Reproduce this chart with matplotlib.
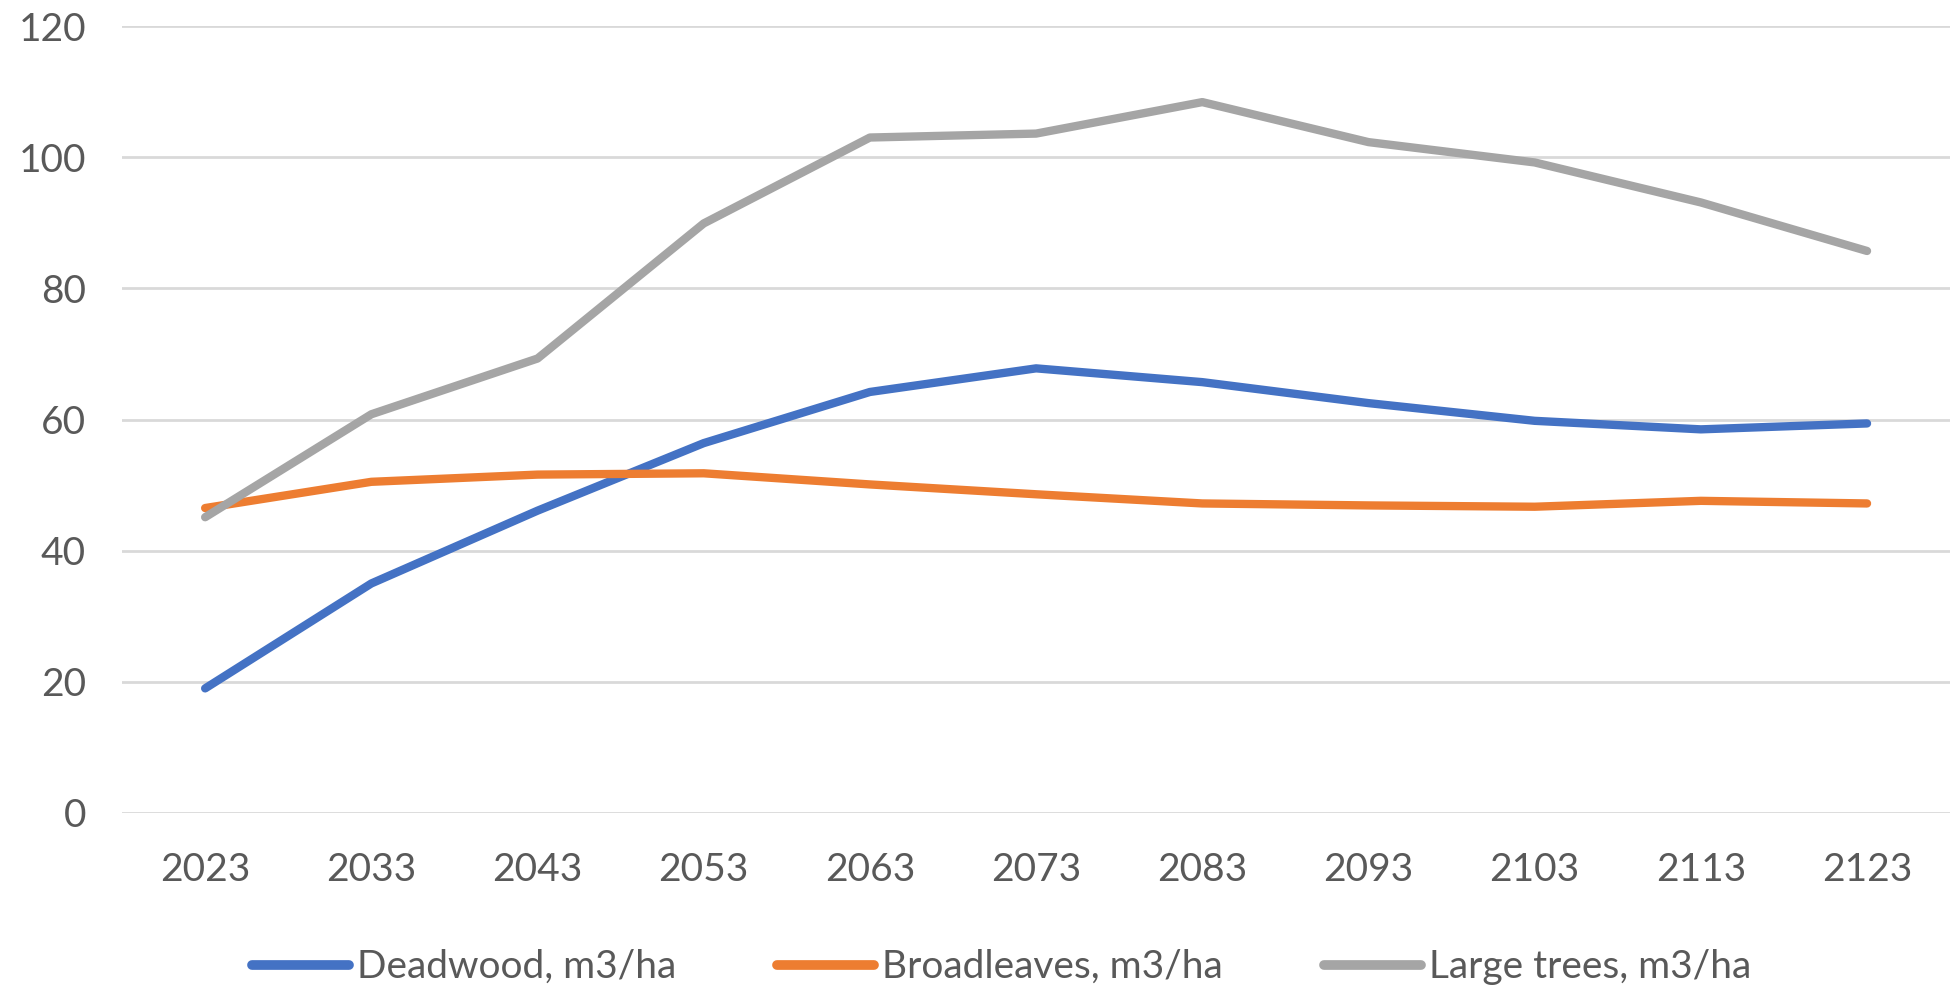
import numpy as np
import matplotlib.pyplot as plt

# Data
years = ["2023", "2033", "2043", "2053", "2063", "2073", "2083", "2093", "2103", "2113", "2123"]
deadwood = [19.0, 35.0, 46.1, 56.4, 64.2, 67.8, 65.7, 62.5, 59.8, 58.5, 59.4]
broadleaves = [46.5, 50.5, 51.6, 51.8, 50.1, 48.6, 47.2, 46.9, 46.7, 47.6, 47.2]
large_trees = [45.1, 60.8, 69.3, 89.9, 103.0, 103.6, 108.4, 102.3, 99.2, 93.1, 85.7]

series_names = ["Deadwood, m3/ha", "Broadleaves, m3/ha", "Large trees, m3/ha"]
colors = ["#4472C4", "#ED7D31", "#A5A5A5"]

plt.rcParams["font.family"] = ["Lato", "DejaVu Sans"]

fig = plt.figure(figsize=(19.56, 9.9), dpi=100)
ax = fig.add_axes([0.0624, 0.1788, 0.9346, 0.7949])

x = np.arange(len(years))
for vals, name, c in zip([deadwood, broadleaves, large_trees], series_names, colors):
    ax.plot(x, vals, color=c, linewidth=6, label=name,
            solid_capstyle="round", solid_joinstyle="round")

ax.set_xlim(-0.5, len(years) - 0.5)
ax.set_ylim(0, 120)
ax.set_yticks(np.arange(0, 121, 20))
ax.set_xticks(x)
ax.set_xticklabels(years)

ax.grid(axis="y", color="#D9D9D9", linewidth=2)
ax.set_axisbelow(True)
for s in ax.spines.values():
    s.set_visible(False)
ax.tick_params(length=0, labelsize=28, colors="#595959")
ax.tick_params(axis="x", pad=28)
ax.tick_params(axis="y", pad=26)

leg = fig.legend(loc="center", bbox_to_anchor=(0.512, 0.023), ncol=3, frameon=False,
                 fontsize=28, handlelength=2.5, handletextpad=0.2, columnspacing=2.6,
                 labelcolor="#595959")
for line in leg.get_lines():
    line.set_linewidth(7)

fig.savefig("out.png", dpi=100)
